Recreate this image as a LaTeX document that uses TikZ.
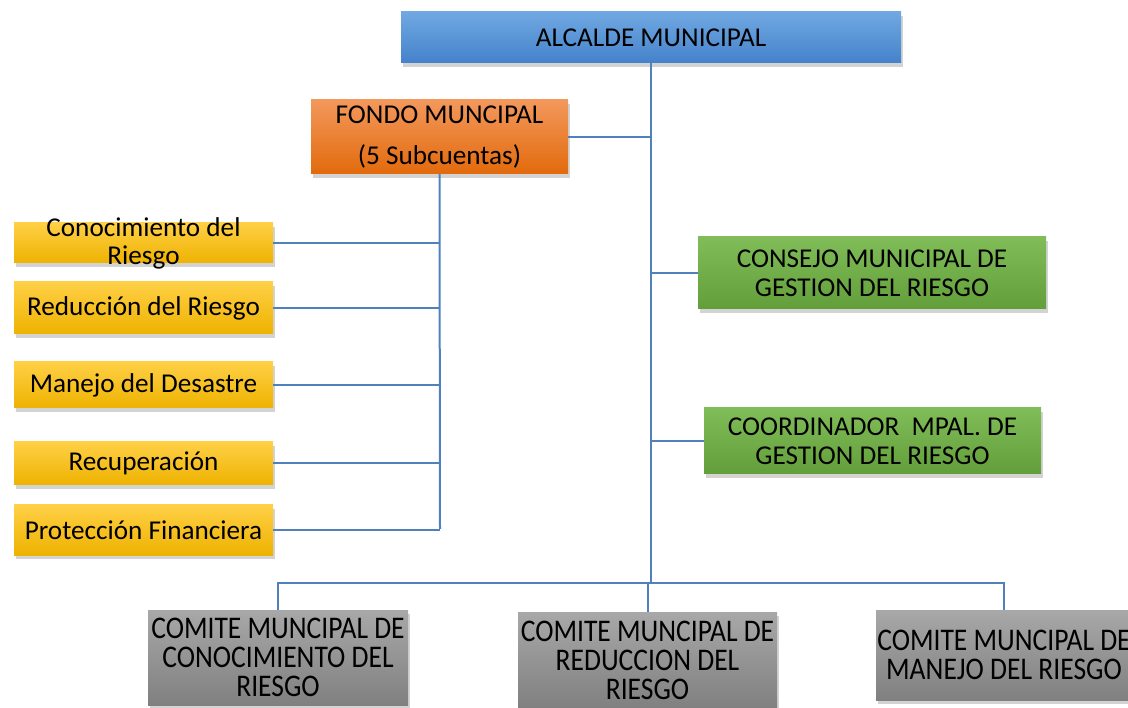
\documentclass[tikz,border=0pt]{standalone}
\usepackage{fontspec}
\setmainfont{Carlito}
\newfontfamily\narrowfont[FakeStretch=0.875]{Carlito}
\usetikzlibrary{shadows}
\definecolor{line_blue}{RGB}{79,129,189}
\definecolor{blue_top}{RGB}{112,168,226}
\definecolor{blue_bot}{RGB}{68,130,202}
\definecolor{orange_top}{RGB}{243,152,92}
\definecolor{orange_bot}{RGB}{226,106,12}
\definecolor{yellow_top}{RGB}{255,208,70}
\definecolor{yellow_bot}{RGB}{238,178,0}
\definecolor{green_top}{RGB}{128,188,88}
\definecolor{green_bot}{RGB}{98,158,58}
\definecolor{gray_top}{RGB}{168,168,168}
\definecolor{gray_bot}{RGB}{128,128,128}

\begin{document}
\begin{tikzpicture}[x=1pt,y=-1pt]
    \tikzstyle{box}=[rectangle, draw=none, inner sep=0pt, align=center, text=black,
      font=\fontsize{27.2}{29}\selectfont,
      drop shadow={shadow xshift=2pt, shadow yshift=-4pt, opacity=0.35}]
    \tikzstyle{alcalde}=[box, top color=blue_top, bottom color=blue_bot]
    \tikzstyle{fondo}=[box, top color=orange_top, bottom color=orange_bot]
    \tikzstyle{sub}=[box, top color=yellow_top, bottom color=yellow_bot, minimum width=259pt]
    \tikzstyle{consejo}=[box, top color=green_top, bottom color=green_bot]
    \tikzstyle{comite}=[box, top color=gray_top, bottom color=gray_bot,
      font=\narrowfont\fontsize{31.5}{29}\selectfont]
    \tikzstyle{link}=[draw=line_blue, line width=2pt]

    \useasboundingbox (0,0) rectangle (1128,708);

    % top of the chart
    \node[alcalde, minimum width=500pt, minimum height=51pt] (alc) at (651,37.5) {ALCALDE MUNICIPAL};
    \node[fondo, minimum width=257pt, minimum height=74pt] (fondo) at (439.5,137)
      {FONDO MUNCIPAL\\[12pt](5 Subcuentas)};

    % subcuentas
    \node[sub, minimum height=40pt, label={[name=s1t, align=center, font=\fontsize{27.2}{28}\selectfont]center:Conocimiento del\\Riesgo}] (s1) at (143.5,243) {};
    \node[sub, minimum height=52pt] (s2) at (143.5,308) {Reducción del Riesgo};
    \node[sub, minimum height=46pt] (s3) at (143.5,385) {Manejo del Desastre};
    \node[sub, minimum height=43pt] (s4) at (143.5,463.5) {Recuperación};
    \node[sub, minimum height=50pt] (s5) at (143.5,530) {Protección Financiera};

    % consejo y coordinador
    \node[consejo, minimum width=348pt, minimum height=72pt] (cons) at (872,273)
      {CONSEJO MUNICIPAL DE\\GESTION DEL RIESGO};
    \node[consejo, minimum width=337pt, minimum height=66pt] (coord) at (872.5,441)
      {COORDINADOR\ \ MPAL. DE\\GESTION DEL RIESGO};

    % comites
    \node[comite, minimum width=260pt, minimum height=95pt] (c1) at (278,657.5)
      {COMITE MUNCIPAL DE\\CONOCIMIENTO DEL\\RIESGO};
    \node[comite, minimum width=259pt, minimum height=96pt] (c2) at (647.5,660)
      {COMITE MUNCIPAL DE\\REDUCCION DEL\\RIESGO};
    \node[comite, minimum width=256pt, minimum height=90pt] (c3) at (1004,655)
      {COMITE MUNCIPAL DE\\MANEJO DEL RIESGO};

    \coordinate (trunk) at (651,583);
    \coordinate (fbus) at (440,529);

    \draw[link] (alc.south) -- (trunk);
    \draw[link] (fondo) -- (fondo -| trunk);
    \draw[link] (fondo.south) -- (fbus);
    \foreach \s in {s1,s2,s3,s4,s5}
      \draw[link] (\s) -- (\s -| fbus);
    \draw[link] (cons) -- (cons -| trunk);
    \draw[link] (coord) -- (coord -| trunk);
    \draw[link] (c1.north) |- (trunk) -| (c3.north);
    \draw[link] (c2.north |- trunk) -- (c2.north);
\end{tikzpicture}
\end{document}
